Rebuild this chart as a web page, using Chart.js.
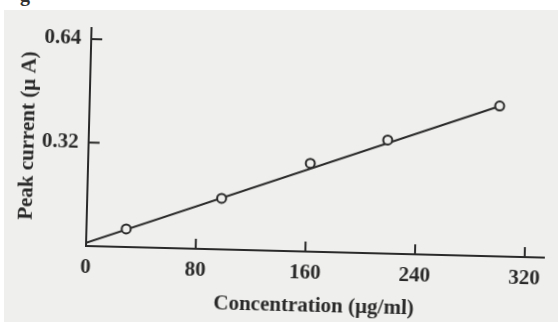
<!DOCTYPE html>
<html>
<head>
<meta charset="utf-8">
<script src="https://cdn.jsdelivr.net/npm/chart.js@4.4.0/dist/chart.umd.min.js"></script>
<style>
  html, body { margin: 0; padding: 0; background: #ffffff; }
  #wrap { position: relative; width: 558px; height: 322px; overflow: hidden; background: #ffffff; }
  #paper { position: absolute; left: 4px; top: 10px; right: 0; bottom: 0; background: #efefed; }
  #frag { position: absolute; left: 20px; top: -17px; font: bold 20px "Liberation Serif", serif; color: #333; }
  canvas { position: absolute; left: 0; top: 0; transform: rotate(1.45deg); transform-origin: 86px 246px; }
</style>
</head>
<body>
<div id="wrap">
  <div id="paper"></div>
  <div id="frag">g</div>
  <canvas id="c" width="558" height="322"></canvas>
</div>
<script>
// Data
const concentration = [29, 98, 162, 218, 299];             // µg/ml
const peakCurrent   = [0.056, 0.158, 0.273, 0.351, 0.465]; // µA
const fitX = [0, 300];
const fitY = [0.01, 0.466];
const xTickValues = [0, 80, 160, 240, 320];
const yTickValues = [0.32, 0.64];
const xTitle = 'Concentration (\u00b5g/ml)';
const yTitle = 'Peak current (\u00b5 A)';

const ink = '#2a2a2a';
const paper = '#efefed';
const fontFam = '"Liberation Serif", "DejaVu Serif", serif';

const innerTicks = {
  id: 'innerTicks',
  afterDatasetsDraw(chart) {
    const ctx = chart.ctx;
    const xs = chart.scales.x, ys = chart.scales.y;
    ctx.save();
    ctx.strokeStyle = ink;
    ctx.lineWidth = 2;
    xTickValues.forEach(v => {
      if (v === 0) return;
      const px = xs.getPixelForValue(v);
      ctx.beginPath();
      ctx.moveTo(px, ys.bottom);
      ctx.lineTo(px, ys.bottom - 10);
      ctx.stroke();
    });
    yTickValues.forEach(v => {
      const py = ys.getPixelForValue(v);
      ctx.beginPath();
      ctx.moveTo(xs.left, py);
      ctx.lineTo(xs.left + 11, py);
      ctx.stroke();
    });
    ctx.restore();
  }
};

new Chart(document.getElementById('c'), {
  type: 'scatter',
  data: {
    datasets: [
      {
        label: 'fit',
        type: 'line',
        data: fitX.map((x, i) => ({ x, y: fitY[i] })),
        borderColor: ink,
        borderWidth: 2,
        pointRadius: 0,
        fill: false,
        order: 2
      },
      {
        label: 'data',
        data: concentration.map((x, i) => ({ x, y: peakCurrent[i] })),
        pointStyle: 'circle',
        pointRadius: 4.5,
        pointBorderWidth: 2,
        pointBorderColor: ink,
        pointBackgroundColor: paper,
        order: 1
      }
    ]
  },
  options: {
    responsive: false,
    animation: false,
    devicePixelRatio: 1,
    layout: { padding: { top: 28, right: 14, left: 0, bottom: 0 } },
    plugins: { legend: { display: false }, tooltip: { enabled: false } },
    scales: {
      x: {
        type: 'linear',
        min: 0,
        max: 334,
        afterBuildTicks: s => { s.ticks = xTickValues.map(v => ({ value: v })); },
        afterFit: s => { s.height = 76; },
        grid: { display: false, drawTicks: false },
        border: { display: true, color: ink, width: 2 },
        ticks: {
          color: ink, padding: 9, maxRotation: 0, autoSkip: false,
          font: { family: fontFam, size: 21, weight: 'bold' },
          callback: v => String(v)
        },
        title: {
          display: true, text: xTitle, color: ink,
          font: { family: fontFam, size: 21, weight: 'bold' },
          padding: { top: 0, bottom: 9 }
        }
      },
      y: {
        type: 'linear',
        min: 0,
        max: 0.674,
        afterBuildTicks: s => { s.ticks = yTickValues.map(v => ({ value: v })); },
        afterFit: s => { s.width = 86; },
        grid: { display: false, drawTicks: false },
        border: { display: true, color: ink, width: 2 },
        ticks: {
          color: ink, padding: 10, autoSkip: false,
          font: { family: fontFam, size: 21, weight: 'bold' },
          callback: v => Number(v).toFixed(2)
        },
        title: {
          display: true, text: yTitle, color: ink,
          font: { family: fontFam, size: 21, weight: 'bold' },
          padding: { top: 13, bottom: 0 }
        }
      }
    }
  },
  plugins: [innerTicks]
});
</script>
</body>
</html>
